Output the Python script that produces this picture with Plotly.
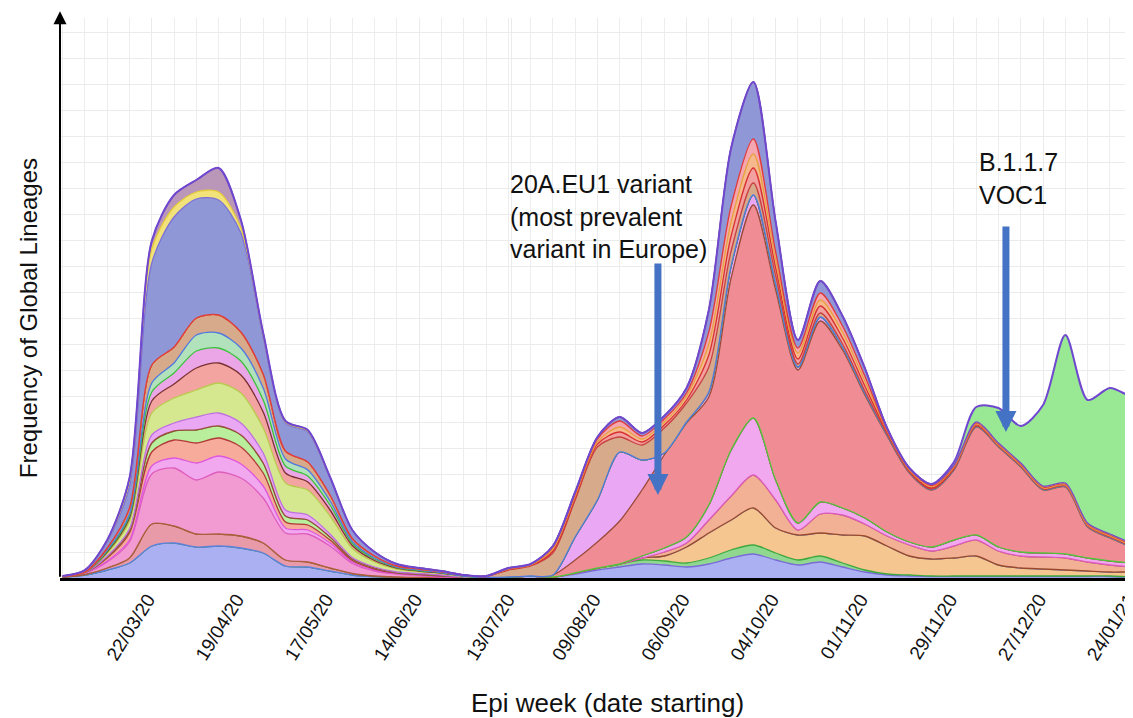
import pandas as pd
import plotly.graph_objects as go

# weekly epi weeks (Sundays)
weeks = pd.date_range("2020-02-23", periods=50, freq="7D")

tick_dates = ["2020-03-22", "2020-04-19", "2020-05-17", "2020-06-14", "2020-07-13", "2020-08-09",
              "2020-09-06", "2020-10-04", "2020-11-01", "2020-11-29", "2020-12-27", "2021-01-24"]
tick_text = ["22/03/20", "19/04/20", "17/05/20", "14/06/20", "13/07/20", "09/08/20",
             "06/09/20", "04/10/20", "01/11/20", "29/11/20", "27/12/20", "24/01/21"]

# lineage frequencies per week (stack order bottom -> top)
lav = [1, 3, 8, 15, 32, 35, 31, 32, 30, 25, 12, 11, 7, 3, 1.5, 1, .5, .5, .5, .5,
       1, 2, 1, 4, 8, 11, 14, 13, 11, 14, 20, 24, 18, 13, 16, 11, 6, 3, 2, 1.5,
       1.5, 1.5, 1.5, 1.5, 1.5, 1.5, 1.5, 1.5, .5, .5]
green_bot = [0]*23 + [1, 2, 3, 4, 4, 4, 6, 8, 9, 7, 5, 6, 4, 2, 1, 1, .5,
                      .5, .5, .5, .5, .5, .5, .5, .5, .5, .5]
orange_low = [0]*26 + [2, 5, 16, 25, 30, 37, 25, 25, 23, 28, 34, 28, 19, 17,
                       18, 20, 11, 8, 7, 6, 5, 4, 5, 4]
red_thin = [0, .5, 2, 5, 22, 17, 13, 12, 12, 10, 6, 5, 3, 1.5, .5] + [0]*35
orange_up = [0]*27 + [4, 4, 13, 24, 33, 28, 5, 19, 20, 12, 10, 11, 8,
                      12, 16, 14, 12, 12, 12, 9, 7, 5, 5]
pink = [.5, 1.5, 6, 16, 50, 58, 54, 62, 58, 45, 27, 28, 22, 10, 5, 3, 2, .5, .5] + [0]*31
magenta = [0, 0, 1, 2, 8, 10, 17, 16, 14, 12, 5, 4, 3, 1.5, 1, .5, .5, .5] + [0]*8 + \
          [2, 4, 6, 15, 46, 57, 20, 7, 12, 7, 6, 4, 3, 4, 6, 5, 4, 4, 4, 4, 4, 4, 4, 4]
salmon = [0, .5, 3, 7, 14, 18, 20, 18, 17, 13, 6, 5, 3, 1.5, 1, .5, .5, .5] + [0]*32
green_thin = [0, 0, 1, 2, 9, 9, 13, 12, 12, 10, 6, 5, 3, 1.5, 1, .5, .5, .5] + [0]*32
eu1 = [0]*22 + [2, 13, 26, 43, 66, 93, 114, 108, 172, 213, 190, 153, 181, 158, 123, 96,
                69, 57, 70, 108, 100, 85, 63, 67, 31, 23, 16, 14]
lilac = [0, 0, 1, 2, 8, 8, 13, 13, 12, 10, 6, 5, 3, 1.5, 1, .5, .5, .5] + [0]*5 + \
        [23, 42, 69, 30, 2, 1, 5, 12, 10, 6, 3, 4, 3, 2, 1] + [.5]*12
yellowgreen = [0, .5, 3, 8, 22, 25, 27, 30, 30, 25, 27, 25, 18, 9, 5, 3, 2, 1.5, .5] + [0]*31
mix_a = [0, 0, 1, 3, 12, 14, 22, 20, 18, 16, 10, 8, 6, 3, 1.5, 1, .5, .5, .5] + [0]*31
mix_b = [0, 0, 1, 2, 9, 11, 17, 15, 14, 12, 7, 6, 5, 2, 1.5, .5, .5, .5, 0] + [0]*31
mix_c = [0, 0, 1, 2, 9, 10, 16, 15, 13, 12, 7, 6, 4, 2, 1, .5, .5, 0, 0] + [0]*31
tan = [0, 0, 2, 6, 18, 16, 17, 18, 16, 14, 8, 8, 6, 3, 2, 1, 1, 1, 1, 1,
       7, 10, 22, 37, 53, 15, 15, 25, 19, 25, 15, 12, 8, 3, 4, 3, 2, 1] + [.5]*12
thin_a = [0]*19 + [0, .5, .5, 2, 2, 3, 5, 3, 3, 3, 12, 15, 15, 8, 5, 7, 6, 5,
                   1.5, 1, 1, 1, 1, .5, .5, .5, .5, .5, .5, .5, .5]
thin_b = [0]*19 + [.5, .5, .5, 2, 2, 2, 5, 3, 3, 4, 11, 14, 14, 8, 6, 6, 6, 5,
                   1.5, 1, 1.5, 1, 1, .5, .5, .5, .5, .5, .5, .5, .5]
thin_c = [0]*19 + [0, .5, .5, 2, 2, 3, 6, 3, 3, 3, 12, 16, 15, 8, 5, 7, 6, 5,
                   1, 1, 1, 1, 1, 1, 1, 1, 1, 1, 1, 1, 1]
bluegray = [.5, 1.5, 6, 22, 102, 130, 119, 115, 99, 37, 28, 30, 17, 8, 4, 2, 1, .5, 0, 0,
            .5, .5, 1, 2, 2, 4, 3, 3, 5, 22, 58, 57, 30, 8, 12, 10, 8, 2, 1, 1.5,
            1, 1, 1, 1, 1, 1, 1, 1, 1, 1]
yellow = [0, .5, 1, 5, 14, 10, 7, 8, 5, 2, 1, 1, .5, .25] + [0]*36
mauve = [0, 0, 1, 3, 8, 12, 12, 24, 8, 2, 1, 1, .5, .25] + [0]*36
b117 = [0]*40 + [3, 15, 35, 37, 81, 148, 123, 146, 146, 146]

series = [
    ("lineage A", lav, "#abb0f2", "#7a6ad8"),
    ("lineage B", green_bot, "#90d890", "#3da83d"),
    ("lineage C", orange_low, "#f5c68f", "#5a80e0"),
    ("lineage D", red_thin, "#e99aa8", "#9a4a2a"),
    ("lineage E", orange_up, "#f2b094", "#a8603a"),
    ("lineage F", pink, "#f29ad2", "#de5cbc"),
    ("lineage G", magenta, "#f1a8ef", "#de55de"),
    ("lineage H", salmon, "#f7ab9b", "#b03838"),
    ("lineage I", green_thin, "#b8ee9c", "#4fc63a"),
    ("20A.EU1", eu1, "#f08c93", "#9a4a3a"),
    ("lineage J", lilac, "#eaa8f4", "#bf70e0"),
    ("lineage K", yellowgreen, "#d5e78f", "#b9c94f"),
    ("lineage L1", mix_a, "#f4a4a0", "#7a3030"),
    ("lineage L2", mix_b, "#eaa6e6", "#3cc03c"),
    ("lineage L3", mix_c, "#b2e2bc", "#5078e0"),
    ("lineage M", tan, "#d6aa8a", "#c84040"),
    ("lineage N", thin_a, "#f2a0a0", "#d83030"),
    ("lineage N2", thin_b, "#f6b98e", "#e8a040"),
    ("lineage N3", thin_c, "#f4a7b0", "#e03a3a"),
    ("lineage O", bluegray, "#8f97d6", "#7a70d8"),
    ("lineage P", yellow, "#f2e27a", "#e6cc3a"),
    ("lineage Q", mauve, "#ba96b9", "#7a48c8"),
    ("B.1.1.7", b117, "#99e893", "#7048d0"),
]

fig = go.Figure()
for name, vals, fillc, linec in series:
    fig.add_trace(go.Scatter(
        x=weeks, y=vals, name=name, mode="lines", stackgroup="one",
        line=dict(shape="spline", smoothing=0.8, color=linec,
                  width=2 if name == "B.1.1.7" else 1.3),
        fillcolor=fillc, hoverinfo="skip"))

font_family = "Liberation Sans, Arial, sans-serif"

fig.update_layout(
    width=1125, height=710,
    margin=dict(l=52, r=0, t=10, b=140, autoexpand=False),
    plot_bgcolor="white", paper_bgcolor="white",
    showlegend=False,
    font=dict(family=font_family, color="#111111"),
    xaxis=dict(
        type="date", range=["2020-02-22 04:00", "2021-01-24 06:00"],
        tickvals=tick_dates, ticktext=tick_text, tickangle=-58,
        tickfont=dict(size=19, color="#111111"), ticklabelshift=-4,
        ticklabeloverflow="allow",
        ticks="", showgrid=True, gridcolor="#ebebeb", gridwidth=1,
        minor=dict(dtick=7 * 86400000, tick0="2020-02-23", showgrid=True,
                   gridcolor="#ededed", gridwidth=1),
        showline=True, linecolor="black", linewidth=3, zeroline=False, automargin=False,
    ),
    yaxis=dict(
        range=[0, 560], showticklabels=False, ticks="",
        showgrid=True, gridcolor="#ebebeb", dtick=26, zeroline=False, showline=False,
        automargin=False,
    ),
)

annotations = [
    # y-axis line with arrow
    dict(x=0, y=1.012, xref="paper", yref="paper", text="", showarrow=True,
         ax=0, ay=567, arrowhead=2, arrowsize=1.3, arrowwidth=2, arrowcolor="black"),
    dict(text="Epi week (date starting)", x=0.5098, y=-0.223, xref="paper", yref="paper",
         showarrow=False, font=dict(size=26, color="#111111"), xanchor="center", yanchor="middle"),
    dict(text="Frequency of Global Lineages", x=-0.0298, y=0.464, xref="paper", yref="paper",
         showarrow=False, textangle=-90, font=dict(size=24, color="#111111"),
         xanchor="center", yanchor="middle"),
    dict(text="20A.EU1 variant<br>(most prevalent<br>variant in Europe)", x=0.4175, y=0.732,
         xref="paper", yref="paper", showarrow=False, align="left", xanchor="left", yanchor="top",
         font=dict(size=25, color="#111111")),
    dict(text="B.1.1.7<br>VOC1", x=0.8546, y=0.771, xref="paper", yref="paper",
         showarrow=False, align="left", xanchor="left", yanchor="top",
         font=dict(size=25, color="#111111")),
    dict(x="2020-08-28", y=83, xref="x", yref="y", ax="2020-08-28", ay=316, axref="x", ayref="y",
         text="", showarrow=True, arrowhead=2, arrowsize=0.6, arrowwidth=7, arrowcolor="#4472c4"),
    dict(x="2020-12-15 08:00", y=146, xref="x", yref="y", ax="2020-12-15 08:00", ay=353,
         axref="x", ayref="y", text="", showarrow=True, arrowhead=2, arrowsize=0.6,
         arrowwidth=7, arrowcolor="#4472c4"),
]
fig.update_layout(annotations=annotations)

fig.write_html("out.html")
